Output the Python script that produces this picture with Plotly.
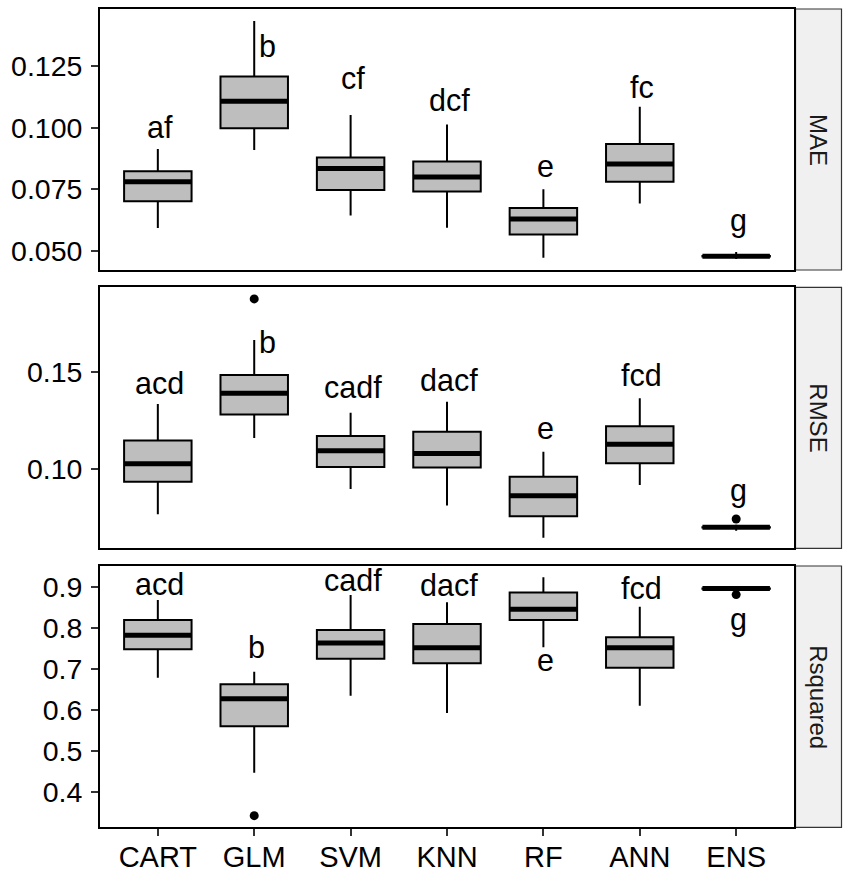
import plotly.graph_objects as go

models = ["CART", "GLM", "SVM", "KNN", "RF", "ANN", "ENS"]
metrics = ["MAE", "RMSE", "Rsquared"]

# MAE box statistics
mae_low = [0.0593, 0.0909, 0.0643, 0.0594, 0.0472, 0.0692, 0.0467]
mae_q1 = [0.0701, 0.0998, 0.0747, 0.0741, 0.0566, 0.0780, 0.0477]
mae_med = [0.0780, 0.1107, 0.0834, 0.0800, 0.0629, 0.0853, 0.0478]
mae_q3 = [0.0823, 0.1208, 0.0879, 0.0863, 0.0674, 0.0934, 0.0479]
mae_high = [0.0913, 0.1433, 0.1051, 0.1013, 0.0750, 0.1085, 0.0495]
mae_out_x = []
mae_out_y = []
mae_letters = ["af", "b", "cf", "dcf", "e", "fc", "g"]
mae_letter_y = [0.1003, 0.1331, 0.1200, 0.1112, 0.0845, 0.1166, 0.0624]

# RMSE box statistics
rmse_low = [0.0768, 0.1161, 0.0898, 0.0814, 0.0647, 0.0919, 0.0684]
rmse_q1 = [0.0936, 0.1282, 0.1012, 0.1010, 0.0758, 0.1031, 0.0700]
rmse_med = [0.1029, 0.1392, 0.1096, 0.1082, 0.0864, 0.1129, 0.0701]
rmse_q3 = [0.1148, 0.1486, 0.1172, 0.1194, 0.0962, 0.1222, 0.0702]
rmse_high = [0.1337, 0.1666, 0.1292, 0.1348, 0.1091, 0.1366, 0.0715]
rmse_out_x = ["GLM", "ENS"]
rmse_out_y = [0.1878, 0.0744]
rmse_letters = ["acd", "b", "cadf", "dacf", "e", "fcd", "g"]
rmse_letter_y = [0.1443, 0.1658, 0.1426, 0.1460, 0.1211, 0.1486, 0.0893]

# Rsquared box statistics
r2_low = [0.6788, 0.4464, 0.6348, 0.5924, 0.7532, 0.6103, 0.8900]
r2_q1 = [0.7483, 0.5599, 0.7254, 0.7140, 0.8200, 0.7034, 0.8965]
r2_med = [0.7825, 0.6275, 0.7637, 0.7523, 0.8461, 0.7523, 0.8967]
r2_q3 = [0.8200, 0.6626, 0.7955, 0.8102, 0.8869, 0.7776, 0.8969]
r2_high = [0.8689, 0.6935, 0.8812, 0.8633, 0.9245, 0.8526, 0.8990]
r2_out_x = ["GLM", "ENS"]
r2_out_y = [0.3412, 0.8820]
r2_letters = ["acd", "b", "cadf", "dacf", "e", "fcd", "g"]
r2_letter_y = [0.9081, 0.7547, 0.9179, 0.9056, 0.7221, 0.8976, 0.8200]

y_ranges = [[0.0422, 0.1482], [0.0593, 0.1938], [0.3128, 0.9520]]
y_ticks = [[0.050, 0.075, 0.100, 0.125], [0.10, 0.15], [0.4, 0.5, 0.6, 0.7, 0.8, 0.9]]
y_fmt = [".3f", ".2f", ".1f"]

panels = [
    (mae_low, mae_q1, mae_med, mae_q3, mae_high, mae_out_x, mae_out_y, mae_letters, mae_letter_y),
    (rmse_low, rmse_q1, rmse_med, rmse_q3, rmse_high, rmse_out_x, rmse_out_y, rmse_letters, rmse_letter_y),
    (r2_low, r2_q1, r2_med, r2_q3, r2_high, r2_out_x, r2_out_y, r2_letters, r2_letter_y),
]

W, H = 851, 875
x_dom = [100 / W, 794 / W]
y_doms = [[1 - 270 / H, 1 - 9 / H], [1 - 548.3 / H, 1 - 287.3 / H], [1 - 827.3 / H, 1 - 566 / H]]
FONT = "Liberation Sans, Arial, sans-serif"
BOXW = 0.7
pos = {m: i + 1 for i, m in enumerate(models)}

fig = go.Figure()
annotations = []
shapes = []

for k, (lo, q1, md, q3, hi, ox, oy, letters, ly) in enumerate(panels):
    xa = "x" if k == 0 else f"x{k+1}"
    ya = "y" if k == 0 else f"y{k+1}"
    xs = [pos[m] for m in models]
    fig.add_trace(go.Box(
        x=xs, q1=q1, median=md, q3=q3, lowerfence=lo, upperfence=hi,
        width=BOXW, fillcolor="#BEBEBE", line=dict(color="black", width=2),
        whiskerwidth=0, boxpoints=False, xaxis=xa, yaxis=ya, showlegend=False,
        hoverinfo="skip",
    ))
    mx, my = [], []
    for xi, m in zip(xs, md):
        mx += [xi - BOXW / 2, xi + BOXW / 2, None]
        my += [m, m, None]
    fig.add_trace(go.Scatter(x=mx, y=my, mode="lines", line=dict(color="black", width=5),
                             xaxis=xa, yaxis=ya, showlegend=False, hoverinfo="skip"))
    if ox:
        fig.add_trace(go.Scatter(x=[pos[m] for m in ox], y=oy, mode="markers",
                                 marker=dict(color="black", size=9),
                                 xaxis=xa, yaxis=ya, showlegend=False, hoverinfo="skip"))
    for m, t, yv in zip(models, letters, ly):
        shift = 13 if (t == "b" and k < 2) else 2
        annotations.append(dict(x=pos[m], y=yv, xref=xa, yref=ya, text=t, showarrow=False,
                                xanchor="center", yanchor="middle", xshift=shift,
                                font=dict(family=FONT, size=30.5, color="black")))
    # strip
    shapes.append(dict(type="rect", xref="paper", yref="paper", x0=795.5 / W, x1=841.5 / W,
                       y0=y_doms[k][0], y1=y_doms[k][1], fillcolor="#F0F0F0",
                       line=dict(color="#333333", width=1.2), layer="below"))
    annotations.append(dict(x=818.5 / W, y=(y_doms[k][0] + y_doms[k][1]) / 2, xref="paper", yref="paper",
                            text=metrics[k], showarrow=False, textangle=90,
                            xanchor="center", yanchor="middle",
                            font=dict(family=FONT, size=24, color="#1a1a1a")))

    axis_common = dict(showline=True, mirror=True, linecolor="black", linewidth=1.8,
                       showgrid=False, zeroline=False)
    fig.layout[("xaxis" if k == 0 else f"xaxis{k+1}")] = dict(
        domain=x_dom, anchor=ya, range=[0.4, 7.6],
        tickvals=[pos[m] for m in models], ticktext=models,
        showticklabels=(k == 2), ticks="outside" if k == 2 else "",
        ticklen=7, tickwidth=1.8, tickcolor="#333333", ticklabelstandoff=-4,
        tickfont=dict(family=FONT, size=29, color="black"), **axis_common)
    fig.layout[("yaxis" if k == 0 else f"yaxis{k+1}")] = dict(
        domain=y_doms[k], anchor=xa, range=y_ranges[k], tickvals=y_ticks[k], tickformat=y_fmt[k],
        ticks="outside", ticklen=7, tickwidth=1.8, tickcolor="#333333", ticklabelstandoff=3,
        tickfont=dict(family=FONT, size=28.5, color="black"), **axis_common)

fig.update_layout(width=W, height=H, margin=dict(l=0, r=0, t=0, b=0),
                  paper_bgcolor="white", plot_bgcolor="white",
                  annotations=annotations, shapes=shapes, showlegend=False)

fig.write_html("out.html", config={"displayModeBar": False},
               post_script="document.body.style.margin='0';document.body.style.overflow='hidden';")
